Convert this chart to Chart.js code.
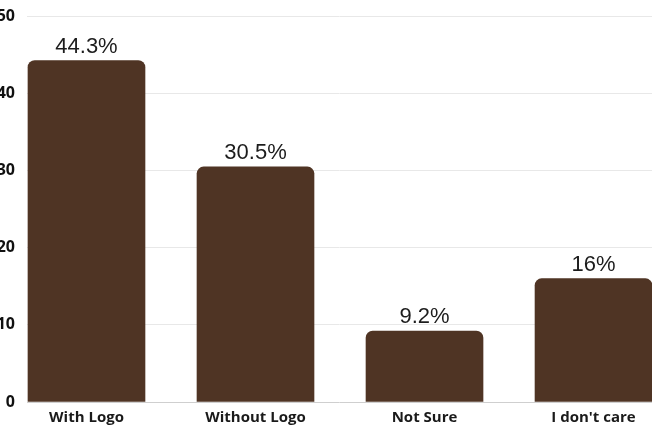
<!DOCTYPE html>
<html>
<head>
<meta charset="utf-8">
<script src="https://cdn.jsdelivr.net/npm/chart.js@4"></script>
<style>
  html, body { margin: 0; padding: 0; background: #fff; overflow: hidden; }
  #wrap { position: absolute; left: -20px; top: -5px; width: 672px; height: 432px; }
</style>
</head>
<body>
<div id="wrap"><canvas id="logoChart"></canvas></div>
<script>
// survey answers: logo preference
const categories = ['With Logo', 'Without Logo', 'Not Sure', "I don't care"];
const positions = [0, 1, 2, 3];
const shares = [44.3, 30.5, 9.2, 16];
const yTicks = [0, 10, 20, 30, 40, 50];

const barColor = '#4f3424';

// value labels above each bar
const valueLabels = {
    id: 'valueLabels',
    afterDatasetsDraw(chart) {
        const ctx = chart.ctx;
        const meta = chart.getDatasetMeta(0);
        ctx.save();
        ctx.font = '22px "Liberation Sans", Arial, sans-serif';
        ctx.fillStyle = '#1c1c1c';
        ctx.textAlign = 'center';
        ctx.textBaseline = 'alphabetic';
        meta.data.forEach((bar, i) => {
            ctx.fillText(shares[i] + '%', bar.x, bar.y - 8);
        });
        ctx.restore();
    }
};

new Chart(document.getElementById('logoChart'), {
    type: 'bar',
    data: {
        datasets: [{
            data: positions.map((p, i) => ({ x: p, y: shares[i] })),
            backgroundColor: barColor,
            borderRadius: { topLeft: 7, topRight: 7, bottomLeft: 0, bottomRight: 0 },
            borderSkipped: false,
            barThickness: 117
        }]
    },
    options: {
        responsive: true,
        maintainAspectRatio: false,
        animation: false,
        layout: { padding: { top: 10, right: 0, bottom: 0, left: 0 } },
        plugins: { legend: { display: false }, tooltip: { enabled: false } },
        scales: {
            x: {
                type: 'linear',
                offset: false,
                min: -0.352,
                max: 3.346,
                grid: { display: false, drawTicks: false },
                border: { display: false },
                ticks: {
                    stepSize: 1,
                    includeBounds: false,
                    autoSkip: false,
                    maxRotation: 0,
                    padding: 7,
                    color: '#1a1a1a',
                    font: { family: '"Open Sans", sans-serif', size: 15, weight: 'bold' },
                    callback: v => categories[v] ?? ''
                },
                afterFit: s => { s.height = 25; }
            },
            y: {
                min: 0,
                max: 50,
                border: { display: false },
                grid: {
                    drawTicks: false,
                    color: c => c.tick && c.tick.value === 0 ? '#cfcfcf' : '#e8e8e8'
                },
                afterBuildTicks: s => { s.ticks = yTicks.map(v => ({ value: v })); },
                ticks: {
                    padding: 12,
                    color: '#111',
                    font: { family: '"Open Sans", sans-serif', size: 16, weight: 'bold' }
                },
                afterFit: s => { s.width = 47; }
            }
        }
    },
    plugins: [valueLabels]
});
</script>
</body>
</html>
